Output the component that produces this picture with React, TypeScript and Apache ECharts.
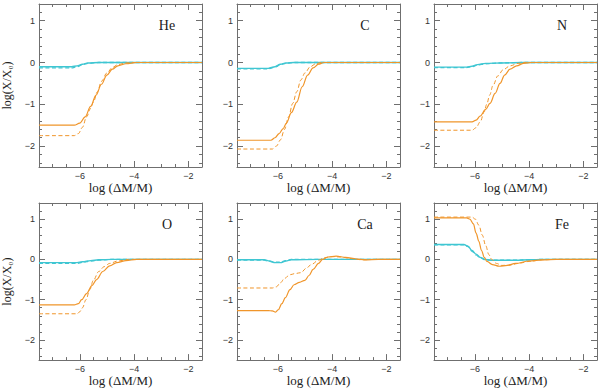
import React, { useEffect, useRef } from "react";
import * as echarts from "echarts";

// ---- tick definitions ----
const xTickLabels = [-6, -4, -2];
const xMajorTicks = [-6, -4, -2];
const xMinorTicks = [-7.5, -7, -6.5, -6, -5.5, -5, -4.5, -4, -3.5, -3, -2.5, -2, -1.5];
const yTickLabels = [-2, -1, 0, 1];
const yMajorTicks = [-2, -1, 0, 1];
const yMinorTicks = [-2.4, -2.2, -2, -1.8, -1.6, -1.4, -1.2, -1, -0.8, -0.6, -0.4, -0.2, 0, 0.2, 0.4, 0.6, 0.8, 1, 1.2];

// ---- He ----
const heCyanSolid = [[-7.5, -0.1], [-6.3, -0.1], [-6.1, -0.08], [-5.9, -0.04], [-5.7, -0.01], [-5.3, 0], [-1.5, 0]];
const heCyanDashed = [[-7.5, -0.13], [-6.3, -0.13], [-6.1, -0.1], [-5.9, -0.05], [-5.7, -0.02], [-5.3, 0], [-1.5, 0]];
const heOrangeSolid = [[-7.5, -1.5], [-6.2, -1.5], [-6.0, -1.45], [-5.8, -1.3], [-5.6, -1.05], [-5.4, -0.78], [-5.2, -0.52], [-5.0, -0.3], [-4.8, -0.16], [-4.6, -0.08], [-4.3, -0.03], [-3.9, 0], [-1.5, 0]];
const heOrangeDashed = [[-7.5, -1.75], [-6.2, -1.75], [-6.05, -1.7], [-5.9, -1.55], [-5.75, -1.3], [-5.6, -1.1], [-5.5, -0.95], [-5.35, -0.7], [-5.2, -0.45], [-5.0, -0.25], [-4.8, -0.12], [-4.6, -0.05], [-4.3, -0.01], [-4.0, 0], [-1.5, 0]];

// ---- C ----
const cCyanSolid = [[-7.5, -0.14], [-6.35, -0.14], [-6.1, -0.1], [-5.9, -0.04], [-5.7, -0.01], [-5.4, 0], [-1.5, 0]];
const cCyanDashed = [[-7.5, -0.15], [-6.35, -0.15], [-6.1, -0.11], [-5.9, -0.05], [-5.7, -0.02], [-5.4, 0], [-1.5, 0]];
const cOrangeSolid = [[-7.5, -1.86], [-6.25, -1.86], [-6.1, -1.8], [-5.95, -1.7], [-5.8, -1.58], [-5.68, -1.45], [-5.5, -1.2], [-5.3, -0.95], [-5.1, -0.58], [-4.9, -0.3], [-4.7, -0.13], [-4.5, -0.04], [-4.3, 0], [-1.5, 0]];
const cOrangeDashed = [[-7.5, -2.07], [-6.2, -2.07], [-6.05, -2.0], [-5.9, -1.85], [-5.75, -1.6], [-5.6, -1.3], [-5.45, -0.98], [-5.3, -0.7], [-5.15, -0.42], [-5.0, -0.25], [-4.8, -0.1], [-4.6, -0.03], [-4.4, 0], [-1.5, 0]];

// ---- N ----
const nCyanSolid = [[-7.5, -0.11], [-6.3, -0.11], [-6.1, -0.09], [-5.9, -0.05], [-5.6, -0.02], [-5.0, -0.01], [-4.2, 0], [-1.5, 0]];
const nCyanDashed = [[-7.5, -0.12], [-6.3, -0.12], [-6.1, -0.1], [-5.9, -0.06], [-5.6, -0.03], [-5.0, -0.01], [-4.2, 0], [-1.5, 0]];
const nOrangeSolid = [[-7.5, -1.42], [-6.1, -1.42], [-5.95, -1.38], [-5.8, -1.28], [-5.6, -1.12], [-5.44, -0.98], [-5.25, -0.74], [-5.07, -0.5], [-4.9, -0.3], [-4.7, -0.16], [-4.46, -0.08], [-4.2, -0.02], [-3.9, 0], [-1.5, 0]];
const nOrangeDashed = [[-7.5, -1.62], [-6.1, -1.62], [-5.95, -1.56], [-5.8, -1.42], [-5.65, -1.18], [-5.56, -1.0], [-5.45, -0.78], [-5.33, -0.55], [-5.15, -0.32], [-4.95, -0.17], [-4.7, -0.08], [-4.4, -0.02], [-4.1, 0], [-1.5, 0]];

// ---- O ----
const oCyanSolid = [[-7.5, -0.08], [-6.1, -0.08], [-5.9, -0.06], [-5.6, -0.03], [-5.3, -0.01], [-4.8, 0], [-1.5, 0]];
const oCyanDashed = [[-7.5, -0.1], [-6.1, -0.1], [-5.9, -0.07], [-5.6, -0.04], [-5.3, -0.02], [-4.8, 0], [-1.5, 0]];
const oOrangeSolid = [[-7.5, -1.13], [-6.2, -1.13], [-6.05, -1.1], [-5.93, -1.0], [-5.75, -0.85], [-5.55, -0.65], [-5.38, -0.5], [-5.15, -0.3], [-4.9, -0.16], [-4.64, -0.08], [-4.3, -0.03], [-3.9, 0], [-1.5, 0]];
const oOrangeDashed = [[-7.5, -1.35], [-6.1, -1.35], [-6.0, -1.3], [-5.9, -1.2], [-5.77, -1.0], [-5.63, -0.75], [-5.5, -0.52], [-5.3, -0.3], [-5.1, -0.18], [-4.9, -0.1], [-4.6, -0.04], [-4.2, 0], [-1.5, 0]];

// ---- Ca ----
const caCyanSolid = [[-7.5, -0.01], [-6.5, -0.01], [-6.3, -0.04], [-6.1, -0.08], [-5.9, -0.08], [-5.7, -0.04], [-5.5, -0.01], [-4.5, 0], [-1.5, 0]];
const caCyanDashed = [[-7.5, -0.02], [-6.5, -0.02], [-6.3, -0.05], [-6.1, -0.07], [-5.9, -0.07], [-5.7, -0.03], [-5.5, 0], [-1.5, 0]];
const caOrangeSolid = [[-7.5, -1.27], [-6.35, -1.27], [-6.2, -1.28], [-6.08, -1.31], [-5.98, -1.25], [-5.85, -1.1], [-5.72, -0.95], [-5.55, -0.75], [-5.4, -0.63], [-5.2, -0.57], [-5.0, -0.52], [-4.85, -0.4], [-4.7, -0.25], [-4.5, -0.1], [-4.35, 0], [-4.15, 0.06], [-3.85, 0.08], [-3.5, 0.05], [-3.1, 0.01], [-2.8, -0.01], [-2.3, 0], [-1.5, 0]];
const caOrangeDashed = [[-7.5, -0.71], [-6.2, -0.71], [-6.05, -0.68], [-5.9, -0.58], [-5.75, -0.47], [-5.55, -0.38], [-5.35, -0.35], [-5.15, -0.33], [-4.95, -0.22], [-4.75, -0.12], [-4.5, -0.02], [-4.3, 0.04], [-4.0, 0.07], [-3.7, 0.06], [-3.3, 0.02], [-2.9, -0.01], [-2.4, 0], [-1.5, 0]];

// ---- Fe ----
const feCyanSolid = [[-7.5, 0.37], [-6.4, 0.37], [-6.25, 0.33], [-6.1, 0.22], [-5.95, 0.13], [-5.8, 0.05], [-5.62, 0], [-5.4, -0.02], [-4.5, -0.02], [-4.0, -0.01], [-3.5, 0], [-1.5, 0]];
const feCyanDashed = [[-7.5, 0.36], [-6.4, 0.36], [-6.25, 0.32], [-6.1, 0.2], [-5.95, 0.11], [-5.8, 0.04], [-5.62, -0.01], [-5.4, -0.02], [-4.5, -0.02], [-4.0, -0.01], [-3.5, 0], [-1.5, 0]];
const feOrangeSolid = [[-7.5, 1.03], [-6.3, 1.03], [-6.18, 1.0], [-6.05, 0.88], [-5.95, 0.65], [-5.85, 0.45], [-5.75, 0.22], [-5.65, 0.05], [-5.55, -0.05], [-5.35, -0.13], [-5.1, -0.17], [-4.8, -0.15], [-4.5, -0.1], [-4.0, -0.04], [-3.5, -0.01], [-3.0, 0], [-1.5, 0]];
const feOrangeDashed = [[-7.5, 1.05], [-6.1, 1.05], [-5.98, 1.0], [-5.85, 0.85], [-5.72, 0.6], [-5.6, 0.35], [-5.48, 0.12], [-5.38, 0.0], [-5.2, -0.1], [-5.0, -0.15], [-4.7, -0.14], [-4.4, -0.1], [-4.0, -0.05], [-3.5, -0.01], [-3.0, 0], [-1.5, 0]];

const panelNames = ["He", "C", "N", "O", "Ca", "Fe"];
const cyanSolidSets = [heCyanSolid, cCyanSolid, nCyanSolid, oCyanSolid, caCyanSolid, feCyanSolid];
const cyanDashedSets = [heCyanDashed, cCyanDashed, nCyanDashed, oCyanDashed, caCyanDashed, feCyanDashed];
const orangeSolidSets = [heOrangeSolid, cOrangeSolid, nOrangeSolid, oOrangeSolid, caOrangeSolid, feOrangeSolid];
const orangeDashedSets = [heOrangeDashed, cOrangeDashed, nOrangeDashed, oOrangeDashed, caOrangeDashed, feOrangeDashed];

const xName = "log (ΔM/M)";
const yName = "log(X/X₀)";

const CYAN = "#3fc6d2";
const ORANGE = "#f0952a";
const AXIS = "#6f6f6f";
const colLeft = [39, 237, 434];
const rowTop = [4, 203];
const SIZE = 163;

const minus = (v: number) => (v < 0 ? "\u2212" + Math.abs(v) : String(v));

function buildOption() {
  const grid: any[] = [];
  const xAxis: any[] = [];
  const yAxis: any[] = [];
  const series: any[] = [];
  const graphic: any[] = [];
  panelNames.forEach((name, i) => {
    const left = colLeft[i % 3];
    const top = rowTop[Math.floor(i / 3)];
    grid.push({ left, top, width: SIZE, height: SIZE, containLabel: false });
    const base = 4 * i;
    (["bottom", "bottom", "top", "top"] as const).forEach((pos, k) => {
      const major = k % 2 === 0;
      const main = k === 0;
      xAxis.push({
        type: "value",
        gridIndex: i,
        min: -7.5,
        max: -1.5,
        position: pos,
        axisLine: { show: major, onZero: false, lineStyle: { color: AXIS, width: 1 } },
        axisTick: {
          show: true,
          inside: true,
          length: major ? 6 : 3,
          customValues: major ? xMajorTicks : xMinorTicks,
          lineStyle: { color: AXIS, width: 1 },
        },
        axisLabel: {
          show: main,
          customValues: xTickLabels,
          formatter: minus,
          fontSize: 9,
          fontFamily: "Liberation Sans",
          color: "#333",
          margin: 4,
        },
        splitLine: { show: false },
        name: main ? xName : "",
        nameLocation: "middle",
        nameGap: 6,
        nameTextStyle: { fontFamily: "Liberation Serif", fontSize: 13, color: "#222" },
      });
    });
    (["left", "left", "right", "right"] as const).forEach((pos, k) => {
      const major = k % 2 === 0;
      const main = k === 0;
      yAxis.push({
        type: "value",
        gridIndex: i,
        min: -2.5,
        max: 1.4,
        position: pos,
        axisLine: { show: major, onZero: false, lineStyle: { color: AXIS, width: 1 } },
        axisTick: {
          show: true,
          inside: true,
          length: major ? 6 : 3,
          customValues: major ? yMajorTicks : yMinorTicks,
          lineStyle: { color: AXIS, width: 1 },
        },
        axisLabel: {
          show: main,
          customValues: yTickLabels,
          formatter: minus,
          fontSize: 9,
          fontFamily: "Liberation Sans",
          color: "#333",
          margin: 4,
        },
        splitLine: { show: false },
        name: main && i % 3 === 0 ? yName : "",
        nameLocation: "middle",
        nameGap: 26,
        nameTextStyle: { fontFamily: "Liberation Serif", fontSize: 12, color: "#222" },
      });
    });
    const mk = (data: number[][], color: string, dashed: boolean, width: number, z: number) => ({
      type: "line",
      xAxisIndex: base,
      yAxisIndex: base,
      data,
      showSymbol: false,
      symbol: "none",
      smooth: 0.35,
      smoothMonotone: "x",
      z,
      lineStyle: { color, width, type: dashed ? [4, 2.5] : "solid" },
    });
    series.push(mk(cyanDashedSets[i], CYAN, true, 1.3, 2));
    series.push(mk(cyanSolidSets[i], CYAN, false, 1.4, 3));
    series.push(mk(orangeDashedSets[i], ORANGE, true, 1, 4));
    series.push(mk(orangeSolidSets[i], ORANGE, false, 1.2, 5));
    graphic.push({
      type: "text",
      x: left + 128,
      y: top + 21,
      style: {
        text: name,
        fontFamily: "Liberation Serif",
        fontSize: 14,
        fill: "#222",
        align: "center",
        verticalAlign: "middle",
      },
    });
  });
  return { animation: false, grid, xAxis, yAxis, series, graphic };
}

export default function App() {
  const ref = useRef<HTMLDivElement>(null);
  useEffect(() => {
    if (!ref.current) return;
    const chart = echarts.init(ref.current, null, { renderer: "svg" });
    chart.setOption(buildOption() as any);
    return () => chart.dispose();
  }, []);
  return (
    <div
      ref={ref}
      style={{ position: "absolute", left: 0, top: 0, width: 600, height: 388, background: "#fff" }}
    />
  );
}
